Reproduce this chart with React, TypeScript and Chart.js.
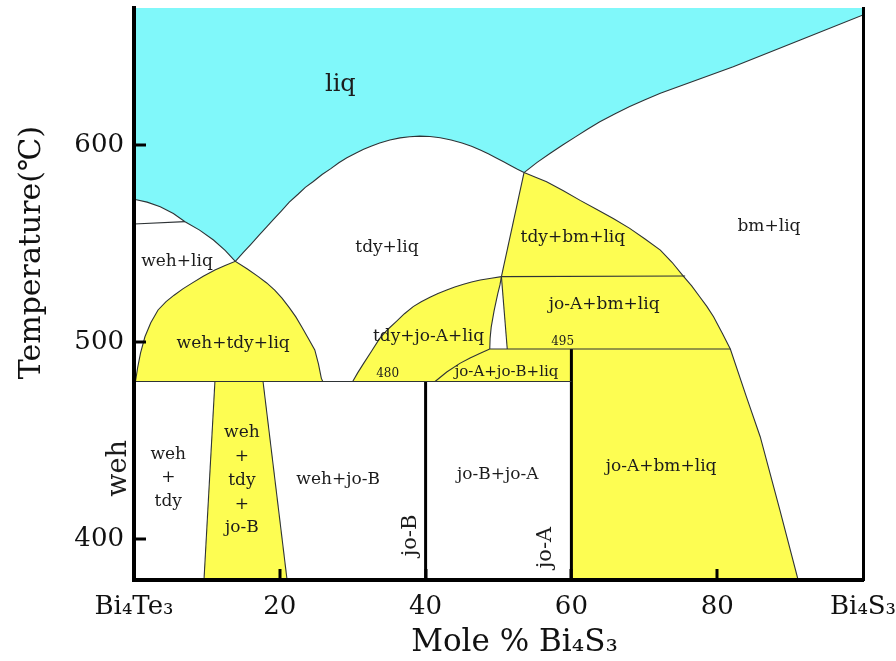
import React, { useEffect, useRef } from 'react';
import { Chart, registerables } from 'chart.js';

Chart.register(...registerables);

// ---- axes ----
const X_MIN = 0;
const X_MAX = 100;
const Y_MIN = 379.3;
const Y_MAX = 669.5;
const xTickValues = [0, 20, 40, 60, 80, 100];
const xTickLabels = ['Bi₄Te₃', '20', '40', '60', '80', 'Bi₄S₃'];
const yTickValues = [400, 500, 600];

// ---- phase boundaries (mole % Bi4S3, °C) ----
const wehLiquidus = [[0, 572.5], [1.8, 571], [3.6, 568.7], [5.4, 565.2], [7.0, 561.1], [9.0, 556.8], [10.9, 551.8], [12.5, 546.5], [13.9, 541]];
const tdyLiquidus = [[13.9, 541], [15, 545.5], [16, 549.5], [17.1, 554], [18.2, 558.5], [19.2, 562.5], [20.2, 566.5], [21.3, 571], [22.5, 575], [23.5, 578.5], [24.6, 581.5], [25.8, 585], [27, 588], [28.1, 591], [29.2, 593.5], [30.4, 595.8], [31.5, 597.8], [32.6, 599.5], [33.7, 601], [35.1, 602.5], [36.5, 603.6], [37.8, 604.2], [39.2, 604.5], [40.6, 604.3], [42, 603.7], [43.5, 602.5], [45, 601], [46.3, 599.4], [47.5, 597.5], [48.6, 595.5], [49.7, 593.4], [50.7, 591.5], [51.7, 589.5], [52.6, 587.7], [53.5, 586]];
const bmLiquidus = [[53.5, 586], [55.3, 591.2], [57.1, 595.8], [58.8, 600], [60.5, 604], [62.2, 608], [63.9, 611.8], [66, 615.8], [68, 619.5], [70.1, 623], [72.2, 626.2], [82.2, 639.7], [91.4, 653.3], [100, 666]];
const wehMeltLine = [[0, 559.9], [7.0, 561.1]];
const wehTdyLiqDome = [[0.2, 480], [0.5, 487], [0.9, 494.5], [1.5, 502.7], [2.3, 509.8], [3.3, 516.3], [4.4, 520.5], [5.5, 523.8], [6.7, 527], [7.9, 529.8], [9.5, 533.4], [11.1, 536.6], [12.5, 538.8], [13.9, 541], [15.5, 537.2], [17.05, 533.2], [18.2, 530], [19.3, 526.4], [20.3, 522.3], [21.3, 517.5], [22.2, 512.8], [23.0, 507.8], [23.9, 502], [24.8, 496], [25.3, 489], [25.7, 481.6], [25.9, 480]];
const line480 = [[0, 480], [60, 480]];
const tdyJoALiqLeft = [[30.0, 480], [30.7, 484.5], [31.5, 489.2], [32.6, 495.5], [33.7, 501.9], [34.8, 506.4], [36, 510.5], [37.1, 514.4], [38.3, 518.0], [39.4, 520.5], [40.6, 522.8], [41.7, 524.7], [42.9, 526.4], [44, 528], [45.2, 529.3], [46.3, 530.5], [47.5, 531.5], [49, 532.4], [50.4, 533.2]];
const slitLeft = [[50.4, 533.2], [50.2, 529], [49.9, 524.6], [49.4, 516], [49.0, 507.6], [48.85, 502], [48.8, 496.5]];
const slitRight = [[50.4, 533.2], [51.2, 496.5]];
const joAjoBLiqCurve = [[41.3, 480], [42.9, 484.8], [44.7, 489.2], [46.1, 491.9], [47.5, 494.3], [48.8, 496.5]];
const tdyBmLeft = [[53.5, 586], [50.4, 533.2]];
const line533 = [[50.4, 533.2], [75.6, 533.5]];
const bmSolvus = [[53.5, 586], [55, 583.8], [56.6, 581.4], [58.9, 576.8], [61.2, 571.9], [63.5, 567.3], [65.8, 562.6], [68.0, 557.7], [70.1, 552.3], [72.2, 546.7], [73.8, 540.5], [75.35, 533.5], [76.5, 528.5], [77.6, 523.0], [78.6, 518], [79.5, 512.9], [80.7, 504.5], [81.8, 496.5], [84.0, 472.3], [85.9, 452], [88.6, 414.8], [91.1, 379.3]];
const line495 = [[48.8, 496.5], [81.8, 496.5]];
const trapLeft = [[11.1, 480], [9.6, 379.3]];
const trapRight = [[17.7, 480], [21.0, 379.3]];
const joBLine = [[40, 379.3], [40, 480]];
const joALine = [[60, 379.3], [60, 496.5]];

// ---- region labels ----
const labelTexts = ['liq', 'weh+liq', 'tdy+liq', 'tdy+bm+liq', 'bm+liq', 'weh+tdy+liq', 'tdy+jo-A+liq', 'jo-A+bm+liq', '480', 'jo-A+jo-B+liq', '495', 'weh\n+\ntdy', 'weh\n+\ntdy\n+\njo-B', 'weh+jo-B', 'jo-B+jo-A', 'jo-A+bm+liq'];
const labelX = [28.3, 5.9, 34.7, 60.2, 87.1, 13.6, 40.4, 64.5, 34.8, 51.1, 58.8, 4.7, 14.8, 28.0, 49.9, 72.3];
const labelY = [630.4, 540.6, 547.7, 552.8, 558.5, 499.0, 502.7, 518.8, 483.8, 485.0, 500.2, 431.1, 429.8, 430.0, 432.6, 436.8];
const labelSize = [24, 17, 17, 17, 17, 17, 17, 17, 12, 15, 12, 17, 17, 17, 17, 17];
const verticalTexts = ['jo-B', 'jo-A', 'weh'];
const verticalX = [37.9, 56.5, -2.06];
const verticalY = [401.9, 395.8, 435.9];
const verticalSize = [21, 21, 27];

const SERIF = '"DejaVu Serif", "Liberation Serif", serif';
const CYAN = '#80f8fa';
const YELLOW = '#fdfd52';
const LINE = '#2e3336';

const toPts = (a: number[][]) => a.map(([x, y]) => ({ x, y }));

const zeroPad = (s: any) => {
  s.paddingTop = 0;
  s.paddingBottom = 0;
  s.paddingLeft = 0;
  s.paddingRight = 0;
};

export default function App() {
  const ref = useRef<HTMLCanvasElement>(null);

  useEffect(() => {
    const canvas = ref.current;
    if (!canvas) return;

    const lineDs = (pts: number[][], width = 1.1, color = LINE) => ({
      type: 'line' as const,
      data: toPts(pts),
      borderColor: color,
      borderWidth: width,
      pointRadius: 0,
      fill: false,
      tension: 0,
      order: 0,
    });
    const fillDs = (pts: number[][], color: string) => ({
      type: 'line' as const,
      data: toPts(pts),
      borderColor: 'rgba(0,0,0,0)',
      borderWidth: 1,
      backgroundColor: color,
      fill: 'shape',
      pointRadius: 0,
      tension: 0,
      order: 5,
    });

    const cyanPoly = [[0, Y_MAX], ...wehLiquidus, ...tdyLiquidus.slice(1), ...bmLiquidus.slice(1), [100, Y_MAX]];
    const trapPoly = [trapLeft[0], trapRight[0], trapRight[1], trapLeft[1]];
    const midPoly = [...tdyJoALiqLeft, ...slitLeft.slice(1), [joALine[1][0], line495[0][1]], [60, 480]];
    const rightPoly = [...bmSolvus, joALine[0], joALine[1], slitRight[1], slitRight[0]];

    const datasets: any[] = [
      fillDs(cyanPoly, CYAN),
      fillDs(wehTdyLiqDome, YELLOW),
      fillDs(trapPoly, YELLOW),
      fillDs(midPoly, YELLOW),
      fillDs(rightPoly, YELLOW),
      lineDs(wehLiquidus),
      lineDs(tdyLiquidus),
      lineDs(bmLiquidus),
      lineDs(wehMeltLine),
      lineDs(wehTdyLiqDome),
      lineDs(line480),
      lineDs(tdyJoALiqLeft),
      lineDs(slitLeft),
      lineDs(slitRight),
      lineDs(joAjoBLiqCurve),
      lineDs(tdyBmLeft),
      lineDs(line533),
      lineDs(bmSolvus),
      lineDs(line495),
      lineDs(trapLeft),
      lineDs(trapRight),
      lineDs(joBLine, 3, '#000'),
      lineDs(joALine, 3, '#000'),
    ];

    const annot = {
      id: 'annot',
      afterDraw(chart: any) {
        const { ctx, chartArea } = chart;
        const xs = chart.scales.x;
        const ys = chart.scales.y;
        ctx.save();
        // inward ticks
        ctx.strokeStyle = '#000';
        ctx.lineWidth = 3;
        yTickValues.forEach((v) => {
          const py = Math.round(ys.getPixelForValue(v));
          ctx.beginPath();
          ctx.moveTo(chartArea.left, py);
          ctx.lineTo(chartArea.left + 12, py);
          ctx.stroke();
        });
        xTickValues.slice(1, -1).forEach((v) => {
          const px = Math.round(xs.getPixelForValue(v));
          ctx.beginPath();
          ctx.moveTo(px, chartArea.bottom);
          ctx.lineTo(px, chartArea.bottom - 11);
          ctx.stroke();
        });
        // region labels
        ctx.fillStyle = '#1c1c1c';
        ctx.textAlign = 'center';
        ctx.textBaseline = 'middle';
        labelTexts.forEach((t, i) => {
          ctx.font = `${labelSize[i]}px ${SERIF}`;
          const lines = t.split('\n');
          const lh = labelSize[i] * 1.4;
          const cx = xs.getPixelForValue(labelX[i]);
          const cy = ys.getPixelForValue(labelY[i]);
          lines.forEach((ln, j) => {
            ctx.fillText(ln, cx, cy + (j - (lines.length - 1) / 2) * lh);
          });
        });
        verticalTexts.forEach((t, i) => {
          ctx.save();
          ctx.font = `${verticalSize[i]}px ${SERIF}`;
          ctx.translate(xs.getPixelForValue(verticalX[i]), ys.getPixelForValue(verticalY[i]));
          ctx.rotate(-Math.PI / 2);
          ctx.fillText(t, 0, 0);
          ctx.restore();
        });
        // axis titles
        ctx.fillStyle = '#111';
        ctx.font = `30px ${SERIF}`;
        ctx.save();
        ctx.translate(chartArea.left - 102, chartArea.top + 244.5);
        ctx.rotate(-Math.PI / 2);
        ctx.fillText('Temperature(℃)', 0, 0);
        ctx.restore();
        ctx.font = `31px ${SERIF}`;
        ctx.fillText('Mole % Bi₄S₃', (chartArea.left + chartArea.right) / 2 + 16, chartArea.bottom + 63);
        ctx.restore();
      },
    };

    const chart = new Chart(canvas, {
      type: 'scatter',
      data: { datasets },
      options: {
        responsive: false,
        animation: false,
        events: [],
        layout: { padding: { top: 8, right: 33, left: 0, bottom: 0 } },
        plugins: { legend: { display: false }, tooltip: { enabled: false } },
        scales: {
          x: {
            type: 'linear',
            min: X_MIN,
            max: X_MAX,
            grid: { display: false, drawTicks: false },
            border: { display: true, width: 4, color: '#000', z: 1 },
            afterBuildTicks: (s: any) => {
              s.ticks = xTickValues.map((v) => ({ value: v }));
            },
            afterFit: (s: any) => {
              s.height = 81;
              zeroPad(s);
            },
            ticks: {
              autoSkip: false,
              maxRotation: 0,
              padding: 12,
              color: '#111',
              font: { family: SERIF, size: 26 },
              callback: (v: any) => xTickLabels[xTickValues.indexOf(Number(v))] ?? '',
            },
          },
          y: {
            type: 'linear',
            min: Y_MIN,
            max: Y_MAX,
            grid: { display: false, drawTicks: false },
            border: { display: true, width: 4, color: '#000', z: 1 },
            afterBuildTicks: (s: any) => {
              s.ticks = yTickValues.map((v) => ({ value: v }));
            },
            afterFit: (s: any) => {
              s.width = 134;
              zeroPad(s);
            },
            ticks: {
              padding: 10,
              color: '#111',
              font: { family: SERIF, size: 26 },
              callback: (v: any) => String(v),
            },
          },
          y2: {
            type: 'linear',
            position: 'right',
            min: Y_MIN,
            max: Y_MAX,
            grid: { display: false, drawTicks: false },
            ticks: { display: false },
            border: { display: true, width: 3, color: '#000', z: 1 },
            afterFit: (s: any) => {
              s.width = 0;
              zeroPad(s);
            },
          },
        },
      } as any,
      plugins: [annot],
    });

    return () => chart.destroy();
  }, []);

  return (
    <div style={{ position: 'fixed', left: 0, top: 0, width: 896, height: 661, background: '#fff' }}>
      <canvas ref={ref} width={896} height={661} />
    </div>
  );
}
